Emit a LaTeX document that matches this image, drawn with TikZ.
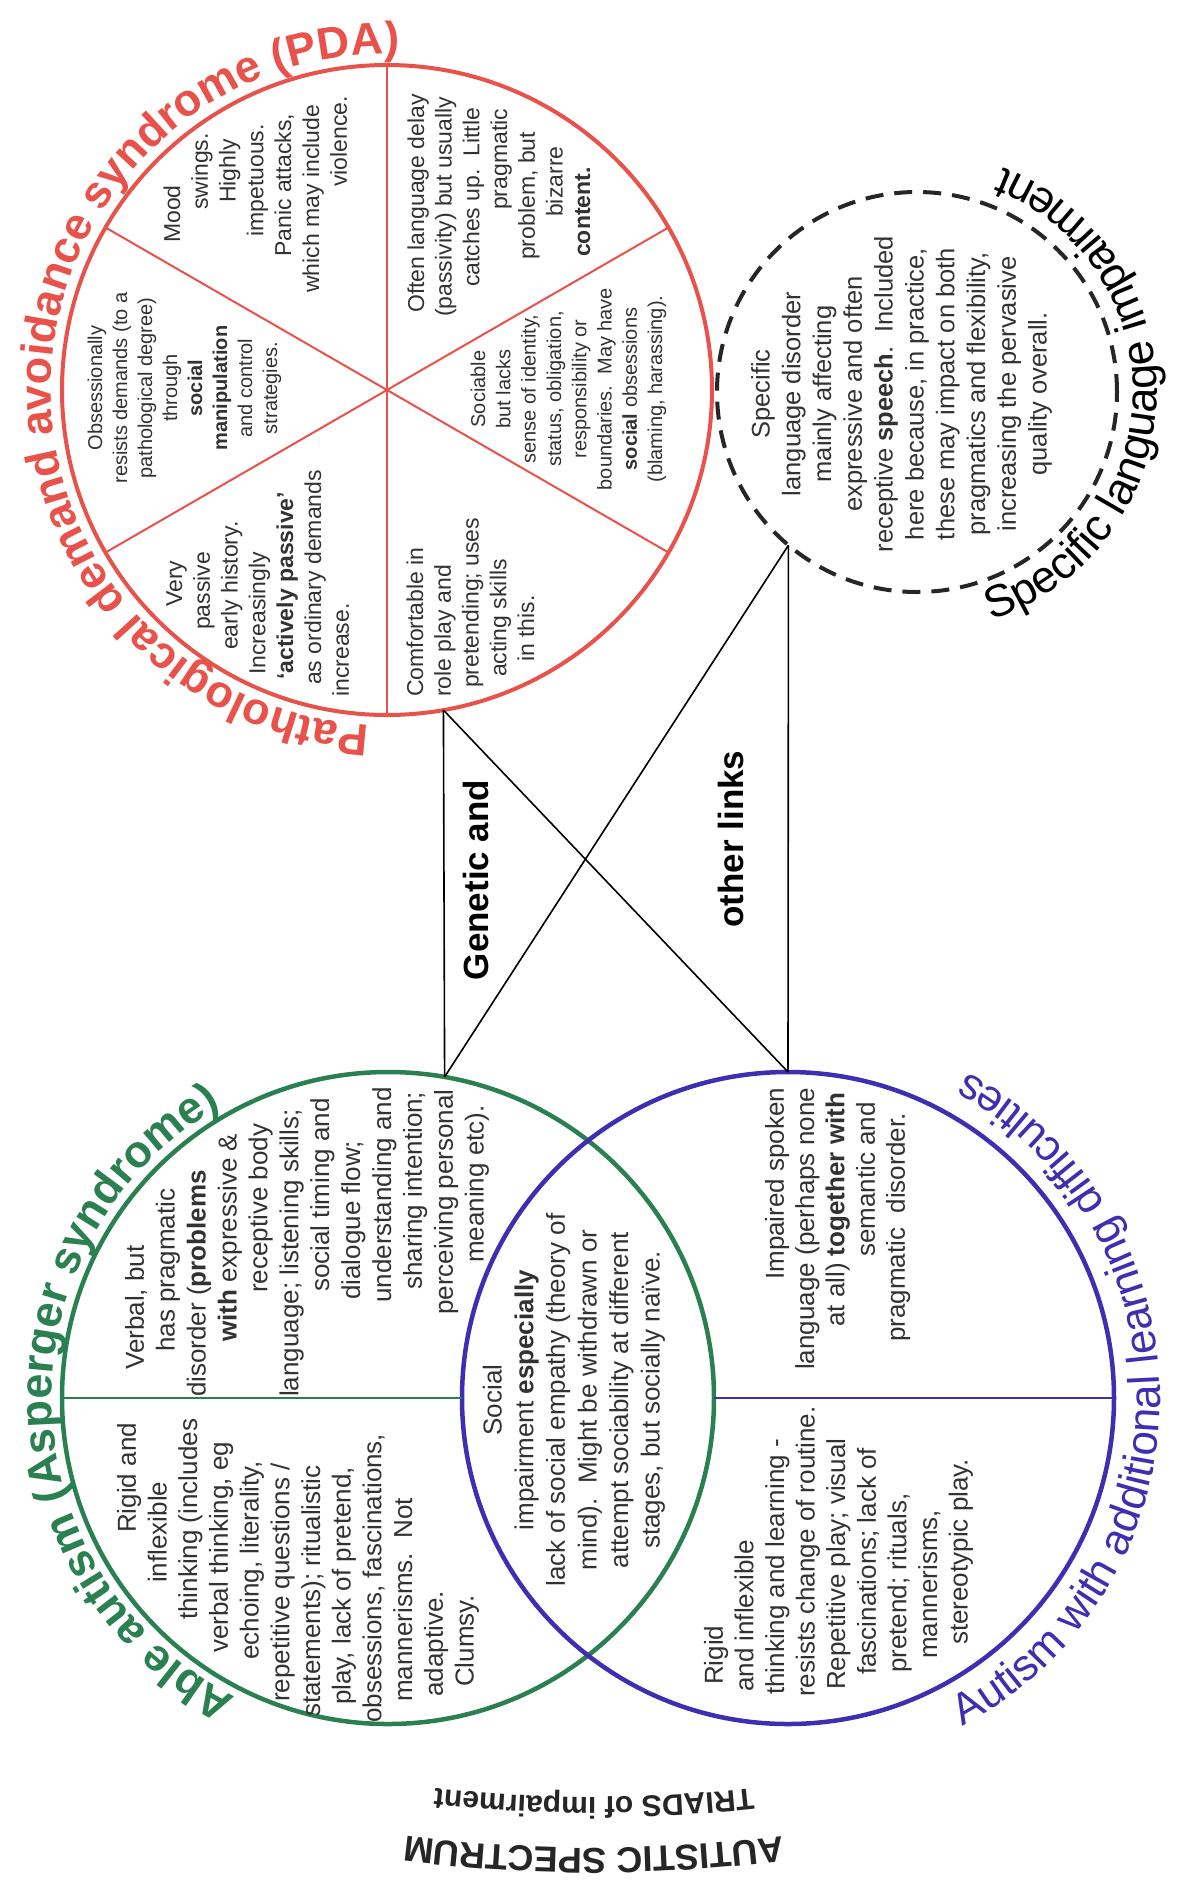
\documentclass[tikz,border=0pt]{standalone}
\usepackage{fontspec}
\setmainfont{Liberation Sans}
\usetikzlibrary{decorations.text}
\definecolor{pdared}{RGB}{232,82,74}
\definecolor{aspgreen}{RGB}{42,128,80}
\definecolor{autpurple}{RGB}{62,46,178}
\definecolor{txt}{RGB}{50,50,50}
\newcounter{lnc}
\newcommand\bshift{6}
\newcommand\tline[3]{\node[tl] (tl\thelnc) at ({#1+\bshift},#2) {#3};\stepcounter{lnc}}
\newcommand\pdatitle{\fontsize{45}{54}\selectfont\bfseries\color{pdared}}
\newcommand\asptitle{\fontsize{45}{54}\selectfont\bfseries\color{aspgreen}}
\newcommand\auttitle{\fontsize{44}{52}\selectfont\color{autpurple}}
\newcommand\slititle{\fontsize{45}{54}\selectfont\color{black}}
\newcommand\capbig{\fontsize{36}{40}\selectfont\bfseries\color{black!85}}
\newcommand\capsmall{\fontsize{30}{34}\selectfont\bfseries\color{black!85}}
\begin{document}
\begin{tikzpicture}[x=1pt,y=-1pt,
  tlfont/.style={font=\fontsize{23}{28}\selectfont},
  tl/.style={rotate=90,anchor=base west,inner sep=0pt,text=txt,tlfont},
  blk/.style={rotate=90,align=center,inner sep=0pt,text=txt},
  ring/.style={circle,inner sep=0pt,outer sep=0pt},
  link/.style={draw=black,line width=1.6pt},
  bigword/.style={rotate=90,inner sep=0pt,font=\fontsize{35}{40}\selectfont\bfseries}]
\fill[white] (0,0) rectangle (1177,1891);
\useasboundingbox (0,0) rectangle (1177,1891);

% circles
\node[ring,draw=pdared,line width=4pt,minimum size=650pt] (pda) at (387,390) {};
\node[ring,draw=black!85,line width=4pt,dash pattern=on 18pt off 11pt,minimum size=400pt] (sli) at (917,392) {};
\node[ring,draw=aspgreen,line width=4.5pt,minimum size=652pt] (asp) at (388,1398) {};
\node[ring,draw=autpurple,line width=4.5pt,minimum size=652pt] (aut) at (788,1398) {};

% PDA spokes
\draw[pdared,line width=2pt] (pda.north) -- (pda.south);
\draw[pdared,line width=2pt] (pda.150) -- (pda.330);
\draw[pdared,line width=2pt] (pda.30) -- (pda.210);

% horizontal dividers
\draw[aspgreen,line width=2pt] (asp.west) -- (aut.west);
\draw[autpurple,line width=2pt] (asp.east) -- (aut.east);

% links
\draw[link] (pda.280) -- (asp.80);
\draw[link] (pda.280) -- (aut.90);
\draw[link] (sli.230) -- (aut.90);
\draw[link] (sli.230) -- (asp.80);

\node[bigword] (gen) at (476,880) {Genetic and};
\node[bigword] (oth) at (731,839) {other links};

% titles along arcs
\path[decorate,decoration={text along path,text={|\pdatitle|Pathological demand avoidance syndrome (PDA)}}]
  (pda) ++(93:336) arc[start angle=93,end angle=278,radius=336];
\path[decorate,decoration={text along path,text={|\slititle|Specific language impairment}}]
  (sli) ++(72:240) arc[start angle=72,end angle=-75,radius=240];
\path[decorate,decoration={text along path,text={|\asptitle|Able autism (Asperger syndrome)}}]
  (asp) ++(117:336) arc[start angle=117,end angle=250,radius=336];
\path[decorate,decoration={text along path,text={|\auttitle|Autism with additional learning difficulties}}]
  (aut) ++(62:372) arc[start angle=62,end angle=-68,radius=372];

% ---- PDA sectors
\tikzset{tlfont/.style={font=\fontsize{23}{28}\selectfont}}
\renewcommand\bshift{6}
\tline{174}{243}{Mood}
\tline{201.8}{210}{swings.}
\tline{229.6}{203}{Highly}
\tline{257.4}{237}{impetuous.}
\tline{285.2}{257}{Panic attacks,}
\tline{313}{293}{which may include}
\tline{340.8}{187}{violence.}

\tline{418}{313}{Often language delay}
\tline{445.7}{317}{(passivity) but usually}
\tline{473.4}{287}{catches up.\ \ Little}
\tline{501.1}{210}{pragmatic}
\tline{528.8}{260}{problem, but}
\tline{556.5}{217}{bizarre}
\tline{584.2}{257}{\textbf{content.}}

\tline{176}{607}{Very}
\tline{203.8}{630}{passive}
\tline{231.6}{650}{early history.}
\tline{259.4}{675}{Increasingly}
\tline{287.2}{680}{\textbf{‘actively passive’}}
\tline{315}{685}{as ordinary demands}
\tline{342.8}{697}{increase.}

\tline{417}{697}{Comfortable in}
\tline{444.8}{697}{role play and}
\tline{472.6}{688}{pretending; uses}
\tline{500.4}{677}{acting skills}
\tline{528.2}{662}{in this.}

\node[blk,font=\fontsize{20}{25}\selectfont] (obs) at (184.5,388)
  {Obsessionally\\resists demands (to a\\pathological degree)\\through\\\textbf{social}\\\textbf{manipulation}\\and control\\strategies.};
\node[blk,font=\fontsize{20}{25.3}\selectfont] (soc) at (568.5,389)
  {Sociable\\but lacks\\sense of identity,\\status, obligation,\\responsibility or\\boundaries.\ \ May have\\\textbf{social} obsessions\\(blaming, harassing).};

% ---- SLI
\node[blk,font=\fontsize{25.5}{30.8}\selectfont] (slt) at (901.5,394)
  {Specific\\language disorder\\mainly affecting\\expressive and often\\receptive \textbf{speech}.\ \ Included\\here because, in practice,\\these may impact on both\\pragmatics and flexibility,\\increasing the pervasive\\quality overall.};

% ---- Asperger
\tikzset{tlfont/.style={font=\fontsize{26}{31}\selectfont}}
\renewcommand\bshift{6.8}
\tline{137}{1370}{Verbal, but}
\tline{167.9}{1352}{has pragmatic}
\tline{198.8}{1397}{disorder (\textbf{problems}}
\tline{229.7}{1342}{\textbf{with} expressive \&}
\tline{260.6}{1293}{receptive body}
\tline{291.5}{1397}{language; listening skills;}
\tline{322.4}{1292}{social timing and}
\tline{353.3}{1300}{dialogue flow;}
\tline{384.2}{1303}{understanding and}
\tline{415.1}{1290}{sharing intention;}
\tline{446}{1315}{perceiving personal}
\tline{476.9}{1263}{meaning etc).}

\tline{129}{1533}{Rigid and}
\tline{159.7}{1583}{inflexible}
\tline{190.4}{1620}{thinking (includes}
\tline{221.1}{1653}{verbal thinking, eg}
\tline{251.8}{1660}{echoing, literality,}
\tline{282.5}{1702}{repetitive questions /}
\tline{313.2}{1717}{statements); ritualistic}
\tline{343.9}{1705}{play, lack of pretend,}
\tline{374.6}{1723}{obsessions, fascinations,}
\tline{405.3}{1702}{mannerisms.\ \ Not}
\tline{436}{1697}{adaptive.}
\tline{466.7}{1687}{Clumsy.}

\node[blk,font=\fontsize{26}{31.6}\selectfont] (sim) at (574,1400)
  {Social\\impairment \textbf{especially}\\lack of social empathy (theory of\\mind).\ \ Might be withdrawn or\\attempt sociability at different\\stages, but socially naïve.};

% ---- Autism with learning difficulties
\tline{777}{1280}{Impaired spoken}
\tline{807.3}{1370}{language (perhaps none}
\tline{837.6}{1327}{at all) \textbf{together with}}
\tline{868}{1257}{semantic and}
\tline{898}{1342}{pragmatic\ \ disorder.}

\tline{716}{1685}{Rigid}
\tline{746.6}{1692}{and inflexible}
\tline{777.2}{1695}{thinking and learning -}
\tline{807.8}{1697}{resists change of routine.}
\tline{838.4}{1690}{Repetitive play; visual}
\tline{869}{1675}{fascinations; lack of}
\tline{899.6}{1673}{pretend; rituals,}
\tline{930.2}{1659}{mannerisms,}
\tline{960.8}{1645}{stereotypic play.}

% ---- bottom caption (upside down, slightly arched)
\coordinate (capc) at (594,354);
\path[decorate,decoration={text along path,text align=center,text={|\capsmall|TRIADS of impairment}}]
  (capc) ++(78:1443) arc[start angle=78,end angle=102,radius=1443];
\path[decorate,decoration={text along path,text align=center,text={|\capbig|AUTISTIC SPECTRUM}}]
  (capc) ++(78:1494) arc[start angle=78,end angle=102,radius=1494];
\end{tikzpicture}
\end{document}
